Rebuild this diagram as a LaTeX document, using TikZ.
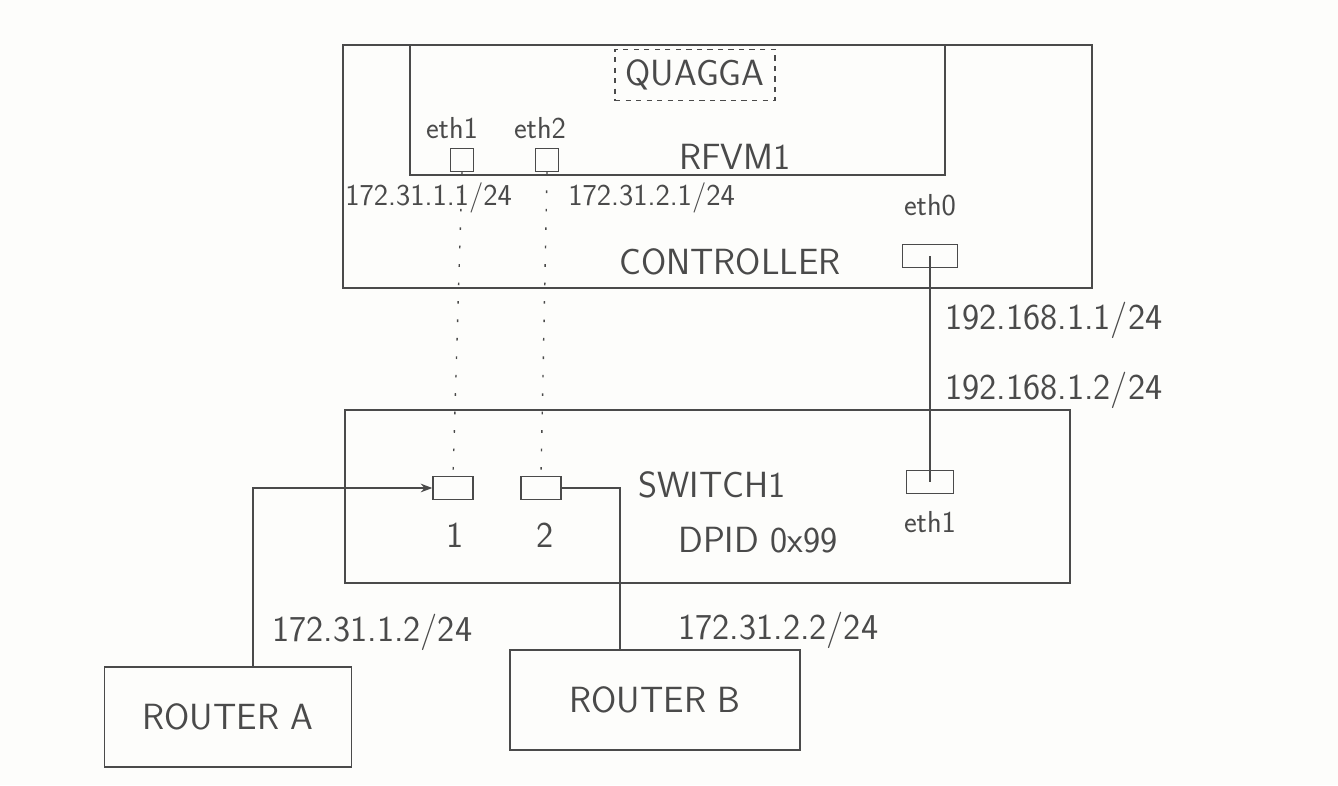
\documentclass[tikz,border=0pt]{standalone}
\usetikzlibrary{arrows.meta,calc}
\definecolor{pencil}{HTML}{4A4A4A}
\definecolor{paper}{HTML}{FDFDFB}

\begin{document}
\begin{tikzpicture}[font=\sffamily,text=pencil,>=Stealth,
                    x=0.02cm,y=-0.02cm,
                    frame/.style={draw=pencil,thick},
                    port/.style={draw=pencil,thick,minimum width=0.8cm,
                                 minimum height=0.45cm,inner sep=0pt},
                    router/.style={draw=pencil,thick,font=\sffamily\huge,
                                   minimum height=2cm},
                    lbl/.style={font=\sffamily\huge},
                    ip/.style={font=\sffamily\LARGE},
                    bigip/.style={font=\sffamily\huge,anchor=west,inner sep=0pt},
                    virtual/.style={draw=pencil,thick,
                                    dash pattern=on 1.5pt off 9pt}]
  \fill[paper] (0,0) rectangle (1338,785);
  \useasboundingbox (0,0) rectangle (1338,785);

  % controller with the RFVM1 inside
  \draw[frame] (343,45) rectangle (1092,288);
  \draw[frame] (410,45) rectangle (945,175);
  \node[lbl,draw=pencil,dashed,thick,inner sep=6pt] (quagga) at (695,75)
    {QUAGGA};
  \node[lbl] (vname) at (735,157) {RFVM1};
  \node[ip] (veth1lbl) at (452,128) {eth1};
  \node[ip] (veth2lbl) at (540,128) {eth2};
  \node[port,minimum width=0.45cm] (veth1) at (462,160) {};
  \node[port,minimum width=0.45cm] (veth2) at (547,160) {};
  \node[ip,anchor=west,inner sep=0pt] (vip1) at (345,198) {172.31.1.1/24};
  \node[ip,anchor=west,inner sep=0pt] (vip2) at (568,198) {172.31.2.1/24};
  \node[lbl] (cname) at (730,262) {CONTROLLER};
  \node[ip] (ceth0lbl) at (930,205) {eth0};
  \node[port,minimum width=1.1cm] (ceth0) at (930,256) {};
  \node[bigip] (cip) at (945,320) {192.168.1.1/24};

  % switch
  \draw[frame] (345,410) rectangle (1070,583);
  \node[bigip] (sip) at (945,390) {192.168.1.2/24};
  \node[port] (p1) at (453,488) {};
  \node[port] (p2) at (541,488) {};
  \node[lbl] (p1lbl) at (455,535) {1};
  \node[lbl] (p2lbl) at (545,535) {2};
  \node[lbl] (sname) at (712,485) {SWITCH1};
  \node[lbl] (dpid) at (758,540) {DPID 0x99};
  \node[port,minimum width=0.95cm] (seth1) at (930,482) {};
  \node[ip] (seth1lbl) at (930,522) {eth1};

  % routers
  \node[router,minimum width=4.94cm] (routera) at (228,717) {ROUTER A};
  \node[router,minimum width=5.8cm] (routerb) at (655,700) {ROUTER B};
  \node[bigip] (raip) at (272,632) {172.31.1.2/24};
  \node[bigip] (rbip) at (678,630) {172.31.2.2/24};

  % links
  \draw[virtual] (veth1.south) -- (p1.north);
  \draw[virtual] (veth2.south) -- (p2.north);
  \draw[pencil,thick] (ceth0.center) -- (seth1.center);
  \draw[pencil,thick,->] ([xshift=0.5cm]routera.north) |- (p1.west);
  \draw[pencil,thick] (p2.east) -| ([xshift=-0.7cm]routerb.north);
\end{tikzpicture}
\end{document}
